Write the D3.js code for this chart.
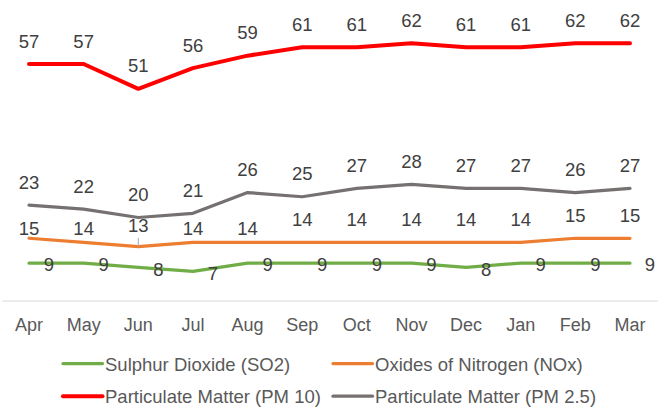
<!DOCTYPE html>
<html>
<head>
<meta charset="utf-8">
<script src="https://cdn.jsdelivr.net/npm/d3@7"></script>
<style>
  body { margin: 0; background: #fff; }
  svg { display: block; }
  text { font-family: "Liberation Sans", Arial, sans-serif; }
</style>
</head>
<body>
<svg id="chart" width="668" height="408"></svg>
<script>
// Monthly average pollutant readings, April to March
const months = ["Apr", "May", "Jun", "Jul", "Aug", "Sep", "Oct", "Nov", "Dec", "Jan", "Feb", "Mar"];
const so2  = [9, 9, 8, 7, 9, 9, 9, 9, 8, 9, 9, 9];
const nox  = [15, 14, 13, 14, 14, 14, 14, 14, 14, 14, 15, 15];
const pm10 = [57, 57, 51, 56, 59, 61, 61, 62, 61, 61, 62, 62];
const pm25 = [23, 22, 20, 21, 26, 25, 27, 28, 27, 27, 26, 27];

const seriesNames  = ["Sulphur Dioxide (SO2)", "Oxides of Nitrogen (NOx)", "Particulate Matter (PM 10)", "Particulate Matter (PM 2.5)"];
const seriesColors = ["#70AD47", "#ED7D31", "#FF0000", "#767171"];
const seriesWidths = [3.25, 3.25, 4, 3.25];

// label lift (px above the point) for NOx; early months sit closer to their line
const noxLabelLift = [10, 14.5, 21.5, 14.5, 14.5, 23, 23, 23, 23, 23, 23, 23];

const series = [
  { name: seriesNames[0], values: so2,  color: seriesColors[0], width: seriesWidths[0], label: "right" },
  { name: seriesNames[1], values: nox,  color: seriesColors[1], width: seriesWidths[1], label: "above", lift: noxLabelLift },
  { name: seriesNames[2], values: pm10, color: seriesColors[2], width: seriesWidths[2], label: "above" },
  { name: seriesNames[3], values: pm25, color: seriesColors[3], width: seriesWidths[3], label: "above" }
];

const svg = d3.select("#chart");

const x = d3.scaleBand().domain(months).range([1.7, 657.3]).padding(0);
const cx = m => x(m) + x.bandwidth() / 2;
const y = d3.scaleLinear().domain([0, 70]).range([300.5, 10]);

// category axis
const axis = svg.append("g")
  .attr("transform", "translate(0,300.5)")
  .call(d3.axisBottom(x).tickSize(0).tickSizeOuter(0));
axis.select(".domain").attr("stroke", "#D9D9D9").attr("stroke-width", 1);
axis.selectAll(".tick text")
  .attr("y", 30.2).attr("dy", null)
  .attr("fill", "#595959")
  .style("font-size", "18px")
  .style("font-family", "'Liberation Sans', Arial, sans-serif");

// lines
const line = d3.line()
  .x((d, i) => cx(months[i]))
  .y(d => y(d));

svg.append("g").selectAll("path")
  .data(series)
  .join("path")
  .attr("d", s => line(s.values))
  .attr("fill", "none")
  .attr("stroke", s => s.color)
  .attr("stroke-width", s => s.width)
  .attr("stroke-linecap", "round")
  .attr("stroke-linejoin", "round");

// leader line for the moved June NOx label
const junIdx = months.indexOf("Jun");
svg.append("line")
  .attr("x1", cx("Jun")).attr("x2", cx("Jun"))
  .attr("y1", y(nox[junIdx]) - noxLabelLift[junIdx] + 13)
  .attr("y2", y(nox[junIdx]))
  .attr("stroke", "#A6A6A6").attr("stroke-width", 1);

// data labels
const labels = svg.append("g")
  .attr("fill", "#404040")
  .style("font-size", "18.5px");

series.forEach(s => {
  s.values.forEach((v, i) => {
    const px = cx(months[i]), py = y(v);
    if (s.label === "right") {
      labels.append("text")
        .attr("x", px + 20).attr("y", py + 8.2)
        .attr("text-anchor", "middle")
        .text(v);
    } else {
      const lift = s.lift ? s.lift[i] : 23;
      labels.append("text")
        .attr("x", px).attr("y", py - lift + 6.6)
        .attr("text-anchor", "middle")
        .text(v);
    }
  });
});

// legend, two columns
const legendCols = [63, 333];
const legendRows = [363.5, 396.2];
const legend = svg.append("g");
series.forEach((s, i) => {
  const lx = legendCols[i % 2], ly = legendRows[Math.floor(i / 2)];
  legend.append("line")
    .attr("x1", lx).attr("x2", lx + 39.5)
    .attr("y1", ly).attr("y2", ly)
    .attr("stroke", s.color)
    .attr("stroke-width", s.width)
    .attr("stroke-linecap", "round");
  legend.append("text")
    .attr("x", lx + 42).attr("y", ly + 7.2)
    .attr("fill", "#595959")
    .style("font-size", "18.5px")
    .text(s.name);
});
</script>
</body>
</html>
